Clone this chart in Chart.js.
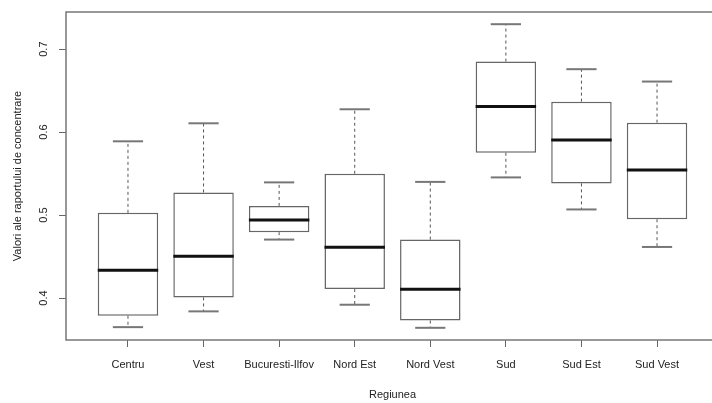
<!DOCTYPE html>
<html>
<head>
<meta charset="utf-8">
<script src="https://cdn.jsdelivr.net/npm/chart.js@4.4.0/dist/chart.umd.min.js"></script>
<style>
  html, body { margin: 0; padding: 0; background: #fff; overflow: hidden; }
  #wrap { width: 725px; height: 403px; }
</style>
</head>
<body>
<div id="wrap"><canvas id="box" width="725" height="403"></canvas></div>
<script>
// values
const regions = ['Centru', 'Vest', 'Bucuresti-Ilfov', 'Nord Est', 'Nord Vest', 'Sud', 'Sud Est', 'Sud Vest'];
const whiskerLow  = [0.365, 0.384, 0.4705, 0.392, 0.3642, 0.5454, 0.5068, 0.4616];
const q1          = [0.3787, 0.4008, 0.4794, 0.4109, 0.373, 0.5751, 0.5382, 0.495];
const median      = [0.4335, 0.4504, 0.4942, 0.4612, 0.4105, 0.6307, 0.5905, 0.5542];
const q3          = [0.5027, 0.5273, 0.5111, 0.5498, 0.4705, 0.685, 0.6367, 0.6114];
const whiskerHigh = [0.5889, 0.6106, 0.5394, 0.6275, 0.540, 0.730, 0.6758, 0.6609];
const yTicks = [0.4, 0.5, 0.6, 0.7];

const font = { family: 'Liberation Sans, Arial, sans-serif', size: 11 };
const ink = '#222';

// whiskers, caps, medians and the frame, placed through the chart scales
const boxParts = {
  id: 'boxParts',
  afterDatasetsDraw(chart) {
    const { ctx, chartArea: a, scales: { x, y } } = chart;
    const bars = chart.getDatasetMeta(0).data;
    const seg = (x1, y1, x2, y2) => { ctx.beginPath(); ctx.moveTo(x1, y1); ctx.lineTo(x2, y2); ctx.stroke(); };
    ctx.save();
    regions.forEach((r, i) => {
      const cx = x.getPixelForValue(i + 1);
      const w = bars[i].width;
      const yLo = y.getPixelForValue(whiskerLow[i]), yHi = y.getPixelForValue(whiskerHigh[i]);
      ctx.strokeStyle = '#555'; ctx.lineWidth = 1; ctx.setLineDash([3, 3]);
      seg(cx, y.getPixelForValue(q3[i]), cx, yHi);
      seg(cx, y.getPixelForValue(q1[i]), cx, yLo);
      ctx.setLineDash([]);
      ctx.strokeStyle = '#777'; ctx.lineWidth = 2;
      seg(cx - w / 4, yHi, cx + w / 4, yHi);
      seg(cx - w / 4, yLo, cx + w / 4, yLo);
      ctx.strokeStyle = '#111'; ctx.lineWidth = 3;
      const ym = y.getPixelForValue(median[i]);
      seg(cx - w / 2, ym, cx + w / 2, ym);
    });
    ctx.strokeStyle = '#777'; ctx.lineWidth = 1.5;
    ctx.strokeRect(a.left, a.top, a.right - a.left, a.bottom - a.top);
    ctx.restore();
  }
};

new Chart(document.getElementById('box'), {
  type: 'bar',
  data: {
    datasets: [{
      data: regions.map((r, i) => ({ x: i + 1, y: [q1[i], q3[i]] })),
      backgroundColor: '#fff',
      borderColor: '#666',
      borderWidth: 1.5,
      borderSkipped: false,
      barPercentage: 0.8,
      categoryPercentage: 1
    }]
  },
  options: {
    responsive: false,
    animation: false,
    layout: { padding: { top: 12, right: 6, left: 0, bottom: 0 } },
    plugins: { legend: { display: false }, tooltip: { enabled: false } },
    scales: {
      x: {
        type: 'linear',
        min: 0.18, max: 8.82,
        offset: false,
        border: { display: false },
        grid: { offset: false, drawOnChartArea: false, color: '#666', tickLength: 7 },
        ticks: {
          stepSize: 1, includeBounds: false, autoSkip: false, maxRotation: 0,
          padding: 11, color: ink, font,
          callback: v => Number.isInteger(v) ? (regions[v - 1] || '') : ''
        },
        title: { display: true, text: 'Regiunea', color: ink, font, padding: { top: 0, bottom: 1 } },
        afterFit(s) { s.height = 63; s.paddingLeft = 0; s.paddingRight = 0; }
      },
      y: {
        min: 0.3495, max: 0.7447,
        border: { display: false },
        grid: { drawOnChartArea: false, color: '#666', tickLength: 7 },
        ticks: {
          stepSize: 0.1, includeBounds: false, minRotation: 90, maxRotation: 90,
          crossAlign: 'center', padding: 7, color: ink, font,
          callback: v => yTicks.some(t => Math.abs(t - v) < 1e-6) ? v.toFixed(1) : ''
        },
        title: { display: true, text: 'Valori ale raportului de concentrare', color: ink, font, padding: { top: 11, bottom: 0 } },
        afterFit(s) { s.width = 66; s.paddingTop = 0; s.paddingBottom = 0; }
      }
    }
  },
  plugins: [boxParts]
});
</script>
</body>
</html>
